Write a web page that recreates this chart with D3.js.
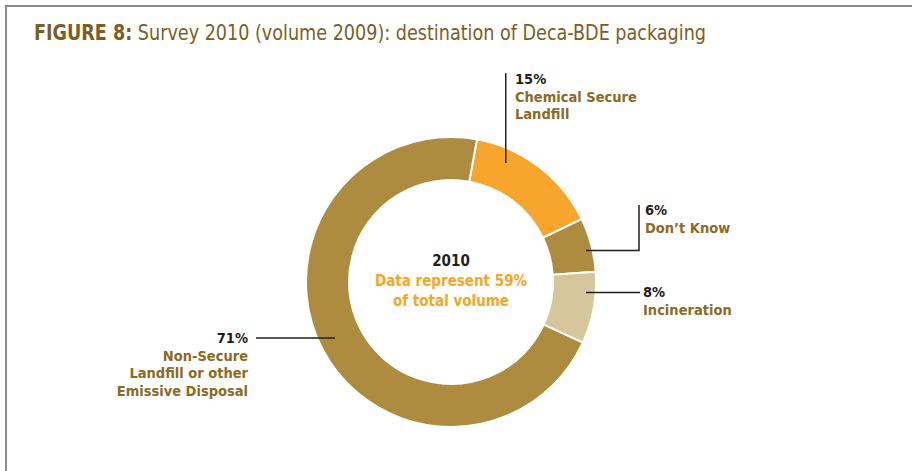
<!DOCTYPE html>
<html>
<head>
<meta charset="utf-8">
<script src="https://cdn.jsdelivr.net/npm/d3@7"></script>
<style>
  body { margin: 0; background: #fff; }
  svg text { font-family: "Liberation Sans Narrow", "DejaVu Sans Condensed", "Roboto", sans-serif; }
</style>
</head>
<body>
<div class="chart"></div>
<script>
// data
var categories = ["Chemical Secure Landfill", "Don\u2019t Know", "Incineration", "Non-Secure Landfill or other Emissive Disposal"];
var values = [15, 6, 8, 71];
var colors = ["#f7a52c", "#ad8c40", "#d5c79b", "#ad8c40"];
var labelLines = [["Chemical Secure", "Landfill"], ["Don\u2019t Know"], ["Incineration"], ["Non-Secure", "Landfill or other", "Emissive Disposal"]];
var centerLines = ["2010", "Data represent 59%", "of total volume"];

var width = 912, height = 471,
    cx = 451, cy = 282,
    outerR = 145, innerR = 102,
    startDeg = 10.3;

var svg = d3.select(".chart").append("svg")
    .attr("width", width)
    .attr("height", height);

// frame
svg.append("path")
    .attr("d", "M6," + height + "V6H" + width)
    .attr("fill", "none")
    .attr("stroke", "#8c8c8c")
    .attr("stroke-width", 2);

// title
var title = svg.append("text")
    .attr("x", 34)
    .attr("y", 40)
    .attr("fill", "#7d5e1f")
    .attr("textLength", 672)
    .attr("lengthAdjust", "spacingAndGlyphs")
    .style("font-size", "21.5px");
title.append("tspan").attr("font-weight", "bold").text("FIGURE 8:");
title.append("tspan").text(" Survey 2010 (volume 2009): destination of Deca-BDE packaging");

var rad = Math.PI / 180;
var pie = d3.pie()
    .sort(null)
    .startAngle(startDeg * rad)
    .endAngle((startDeg + 360) * rad);

var arc = d3.arc()
    .innerRadius(innerR)
    .outerRadius(outerR);

var g = svg.append("g")
    .attr("transform", "translate(" + cx + "," + cy + ")");

var arcs = pie(values);

g.selectAll("path")
    .data(arcs)
    .enter().append("path")
    .attr("d", arc)
    .attr("fill", (d, i) => colors[i])
    .attr("stroke", "#fff")
    .attr("stroke-width", 2)
    .attr("stroke-linejoin", "round");

// center text
g.selectAll("text.center")
    .data(centerLines)
    .enter().append("text")
    .attr("class", "center")
    .attr("text-anchor", "middle")
    .attr("y", (d, i) => -16 + i * 20)
    .attr("fill", (d, i) => i === 0 ? "#231f20" : "#f5a623")
    .attr("font-weight", "bold")
    .style("font-size", "15px")
    .text(d => d);

// leader lines & labels: point on ring given by angle/radius, then elbow
function polar(deg, r) {
    return [Math.sin(deg * rad) * r, -Math.cos(deg * rad) * r];
}
var leaders = [
    { ang: 24.7, r: 131, path: p => [p, [p[0], -209]], tx: 64, ty: -198, anchor: "start" },
    { ang: 76.9, r: 138.6, path: p => [p, [188, p[1]], [188, -77]], tx: 194, ty: -67, anchor: "start" },
    { ang: 94.5, r: 135.4, path: p => [p, [189, p[1]]], tx: 192, ty: 15, anchor: "start" },
    { ang: 244.2, r: 128.8, path: p => [p, [-195, p[1]]], tx: -203, ty: 61, anchor: "end" }
];

var line = d3.line();
leaders.forEach(function (l, i) {
    var p = polar(l.ang, l.r);
    g.append("path")
        .attr("d", line(l.path(p)))
        .attr("fill", "none")
        .attr("stroke", "#231f20")
        .attr("stroke-width", 1.5);
    var t = g.append("text")
        .attr("x", l.tx)
        .attr("y", l.ty)
        .attr("text-anchor", l.anchor)
        .attr("font-weight", "bold")
        .style("font-size", "14.5px");
    t.append("tspan")
        .attr("x", l.tx)
        .attr("fill", "#231f20")
        .text(values[i] + "%");
    labelLines[i].forEach(function (s) {
        t.append("tspan")
            .attr("x", l.tx)
            .attr("dy", 17.5)
            .attr("fill", "#8c6a24")
            .text(s);
    });
});
</script>
</body>
</html>
